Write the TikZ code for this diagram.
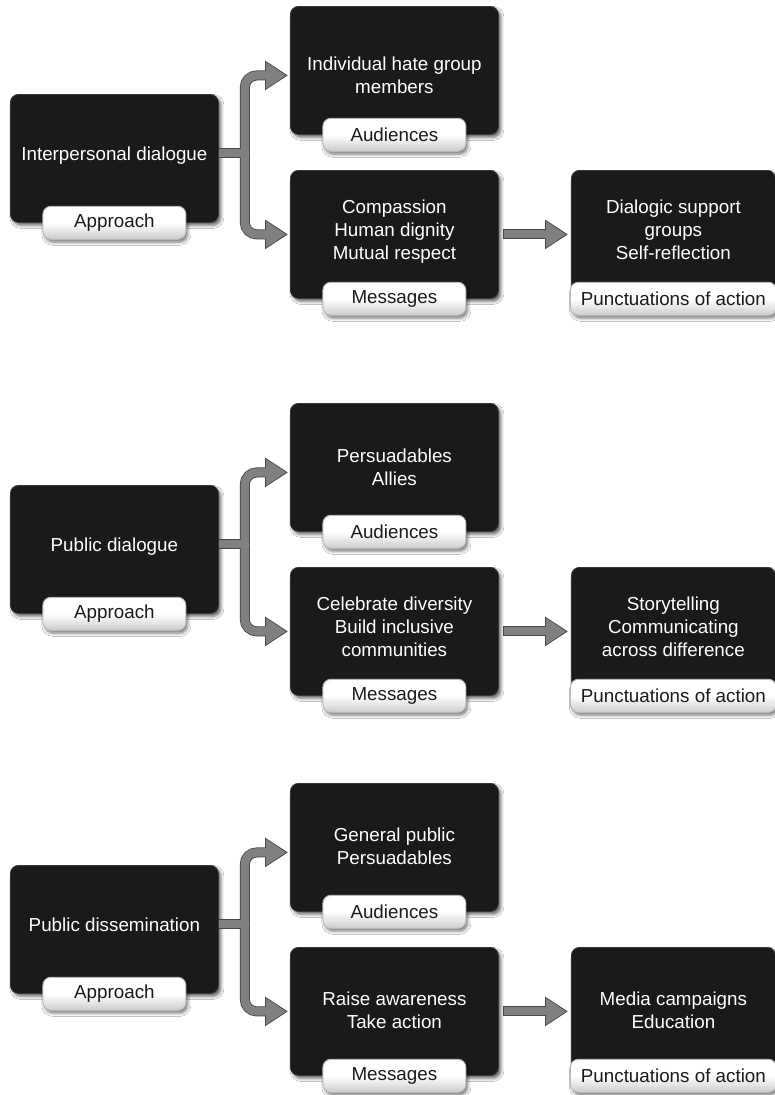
\documentclass[tikz,border=0pt]{standalone}
\usepackage{fontspec}
\setmainfont{Liberation Sans}
\usetikzlibrary{arrows.meta,shadows.blur}
\definecolor{boxc}{RGB}{28,25,26}
\definecolor{boxrim}{RGB}{58,55,55}
\definecolor{cgray}{RGB}{128,128,128}
\definecolor{cdark}{RGB}{72,72,72}
\definecolor{tabrim}{RGB}{185,185,185}
\newcommand\fs{\fontsize{18.8}{23}\selectfont}
\newcommand\bx[8]{%
  \node[box, minimum width=#4pt] (#1) at (#2,#3)
    {\raisebox{#8pt}[\height][\depth]{\begin{tabular}{@{}c@{}}#5\end{tabular}}};
  \node[tab, minimum width=#7pt] (#1t) at (#1.south) {#6};}
\newcommand\conn[5]{%
  \coordinate (j#5) at ([xshift=26pt,yshift=5pt]#1.east);
  % outline layer
  \draw[stubout] ([yshift=5pt]#1.east) -- (j#5);
  \draw[armout] (j#5) |- ([yshift=-5pt]#2.west);
  \draw[armout] (j#5) |- (#3.west);
  \draw[armout, shorten >=3pt, shorten <=4pt] (#3.east) -- (#4.west);
  % fill layer
  \draw[stubin] ([yshift=5pt]#1.east) -- (j#5);
  \draw[armin] (j#5) |- ([yshift=-5pt]#2.west);
  \draw[armfill] (j#5) |- ([yshift=-5pt]#2.west);
  \draw[armin] (j#5) |- (#3.west);
  \draw[armfill] (j#5) |- (#3.west);
  \draw[armin, shorten >=4.9pt, shorten <=5pt] (#3.east) -- (#4.west);
  \draw[armfill, shorten <=5pt] (#3.east) -- (#4.west);}
\begin{document}
\begin{tikzpicture}[x=1pt,y=-1pt,
  box/.style={rectangle, rounded corners=8pt, fill=boxc, draw=boxrim,
    line width=0.8pt, minimum height=128pt, inner sep=0pt, text=white,
    font=\fs, anchor=north west,
    blur shadow={shadow xshift=2.5pt, shadow yshift=-3pt,
      shadow blur radius=3pt, shadow opacity=60}},
  tab/.style={rectangle, rounded corners=8pt, draw=tabrim, line width=1pt,
    top color=white, bottom color=white!80!black, middle color=white,
    minimum height=33pt, inner sep=0pt, text=boxc, font=\fs,
    blur shadow={shadow xshift=2pt, shadow yshift=-3pt,
      shadow blur radius=3pt, shadow opacity=50}},
  stubout/.style={line width=10pt, draw=cdark},
  stubin/.style={line width=8pt, draw=cgray},
  armout/.style={line width=10pt, draw=cdark, rounded corners=12pt,
    -{Triangle[width=28pt,length=23pt]}, shorten >=2pt},
  armin/.style={line width=8pt, draw=cgray, rounded corners=12pt,
    -{Triangle[width=25pt,length=20pt]}, shorten >=3.9pt},
  armfill/.style={line width=8pt, draw=cgray, rounded corners=12pt,
    shorten >=14pt}]
\useasboundingbox (0,0) rectangle (775,1095);
\fill[white] (0,0) rectangle (775,1095);
% Section 1
\bx{a1}{10}{94}{208}{Interpersonal dialogue}{Approach}{143}{3}
\bx{b1}{290}{6}{208}{Individual hate group\\members}{Audiences}{143}{-7}
\bx{c1}{290}{170}{208}{Compassion\\Human dignity\\Mutual respect}{Messages}{143}{3}
\bx{d1}{571}{170}{204}{Dialogic support\\groups\\Self-reflection}{Punctuations of action}{206}{3}
% Section 2
\bx{a2}{10}{485}{208}{Public dialogue}{Approach}{143}{3}
\bx{b2}{290}{403}{208}{Persuadables\\Allies}{Audiences}{143}{-2}
\bx{c2}{290}{567}{208}{Celebrate diversity\\Build inclusive\\communities}{Messages}{143}{3}
\bx{d2}{571}{567}{204}{Storytelling\\Communicating\\across difference}{Punctuations of action}{206}{3}
% Section 3
\bx{a3}{10}{865}{208}{Public dissemination}{Approach}{143}{3}
\bx{b3}{290}{783}{208}{General public\\Persuadables}{Audiences}{143}{-1}
\bx{c3}{290}{947}{208}{Raise awareness\\Take action}{Messages}{143}{-1}
\bx{d3}{571}{947}{204}{Media campaigns\\Education}{Punctuations of action}{206}{-1}
% Connectors
\conn{a1}{b1}{c1}{d1}{1}
\conn{a2}{b2}{c2}{d2}{2}
\conn{a3}{b3}{c3}{d3}{3}
\end{tikzpicture}
\end{document}
